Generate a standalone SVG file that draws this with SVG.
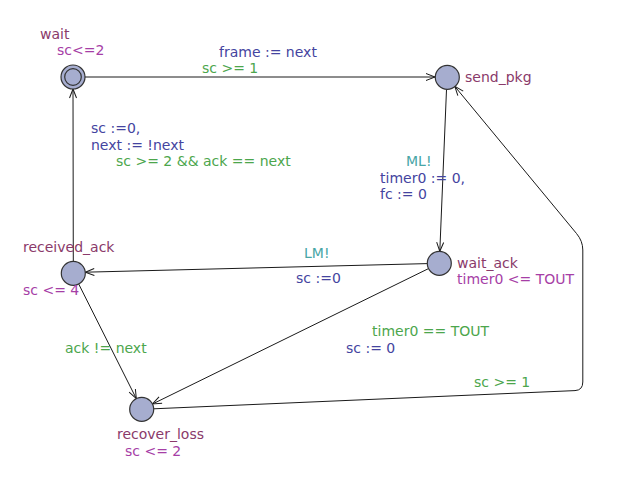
<svg xmlns="http://www.w3.org/2000/svg" width="618" height="483" viewBox="0 0 618 483">
<style>
text{font-family:"DejaVu Sans","Liberation Sans",sans-serif;font-size:14px}
.name{fill:#8a3a6a}
.inv{fill:#a63ea6}
.guard{fill:#4ca64c}
.upd{fill:#4444a0}
.sync{fill:#48a6a6}
.loc{fill:#a6adcf;stroke:#333;stroke-width:1.2}
.edge{fill:none;stroke:#1a1a1a;stroke-width:1}
</style>
<defs>
<marker id="arr" markerUnits="userSpaceOnUse" markerWidth="12" markerHeight="10" viewBox="-10 -5 12 10" refX="0" refY="0" orient="auto">
<path d="M-9,-3.5 L0,0 L-9,3.5" fill="none" stroke="#1a1a1a" stroke-width="1"/>
</marker>
</defs>
<rect width="618" height="483" fill="#fff"/>
<g id="connectors">
<g id="e-wait-send">
<line class="edge" x1="85" y1="77" x2="435" y2="77" marker-end="url(#arr)"/>
<text class="upd" x="219" y="57">frame := next</text>
<text class="guard" x="202" y="73">sc &gt;= 1</text>
</g>
<g id="e-send-waitack">
<line class="edge" x1="446.5" y1="89.5" x2="439.8" y2="251.3" marker-end="url(#arr)"/>
<text class="sync" x="406" y="166">ML!</text>
<text class="upd" x="380" y="183">timer0 := 0,</text>
<text class="upd" x="380" y="199">fc := 0</text>
</g>
<g id="e-waitack-recv">
<line class="edge" x1="427.3" y1="263.6" x2="85.3" y2="272.2" marker-end="url(#arr)"/>
<text class="sync" x="304" y="258">LM!</text>
<text class="upd" x="296" y="283">sc :=0</text>
</g>
<g id="e-recv-wait">
<line class="edge" x1="73.3" y1="261.3" x2="73" y2="89" marker-end="url(#arr)"/>
<text class="upd" x="91" y="133">sc :=0,</text>
<text class="upd" x="91" y="150">next := !next</text>
<text class="guard" x="116" y="166">sc &gt;= 2 &amp;&amp; ack == next</text>
</g>
<g id="e-recv-recover">
<line class="edge" x1="78.7" y1="284" x2="136.3" y2="398.6" marker-end="url(#arr)"/>
<text class="guard" x="65" y="353">ack != next</text>
</g>
<g id="e-waitack-recover">
<line class="edge" x1="428.5" y1="268.6" x2="152.5" y2="404" marker-end="url(#arr)"/>
<text class="guard" x="372" y="336">timer0 == TOUT</text>
<text class="upd" x="346" y="353">sc := 0</text>
</g>
<g id="e-recover-send">
<path class="edge" d="M153.7,408.8 L575,390.6 Q582.8,390.2 582.8,382 L582.8,250 Q582.8,241 576.5,233.5 L454.8,86.4" marker-end="url(#arr)"/>
<text class="guard" x="474" y="387">sc &gt;= 1</text>
</g>
</g>
<g id="n-wait">
<circle class="loc" cx="73" cy="77" r="12"/>
<circle class="loc" cx="73" cy="77" r="8.3"/>
<text class="name" x="40" y="39">wait</text>
<text class="inv" x="57" y="55">sc&lt;=2</text>
</g>
<g id="n-send_pkg">
<circle class="loc" cx="447.3" cy="77.3" r="12"/>
<text class="name" x="465" y="82">send_pkg</text>
</g>
<g id="n-wait_ack">
<circle class="loc" cx="439.3" cy="263.3" r="12"/>
<text class="name" x="457" y="268">wait_ack</text>
<text class="inv" x="457" y="284">timer0 &lt;= TOUT</text>
</g>
<g id="n-received_ack">
<circle class="loc" cx="73.3" cy="273.3" r="12"/>
<text class="name" x="23" y="252">received_ack</text>
<text class="inv" x="23" y="295">sc &lt;= 4</text>
</g>
<g id="n-recover_loss">
<circle class="loc" cx="141.7" cy="409.3" r="12"/>
<text class="name" x="117" y="439">recover_loss</text>
<text class="inv" x="125" y="456">sc &lt;= 2</text>
</g>
</svg>
